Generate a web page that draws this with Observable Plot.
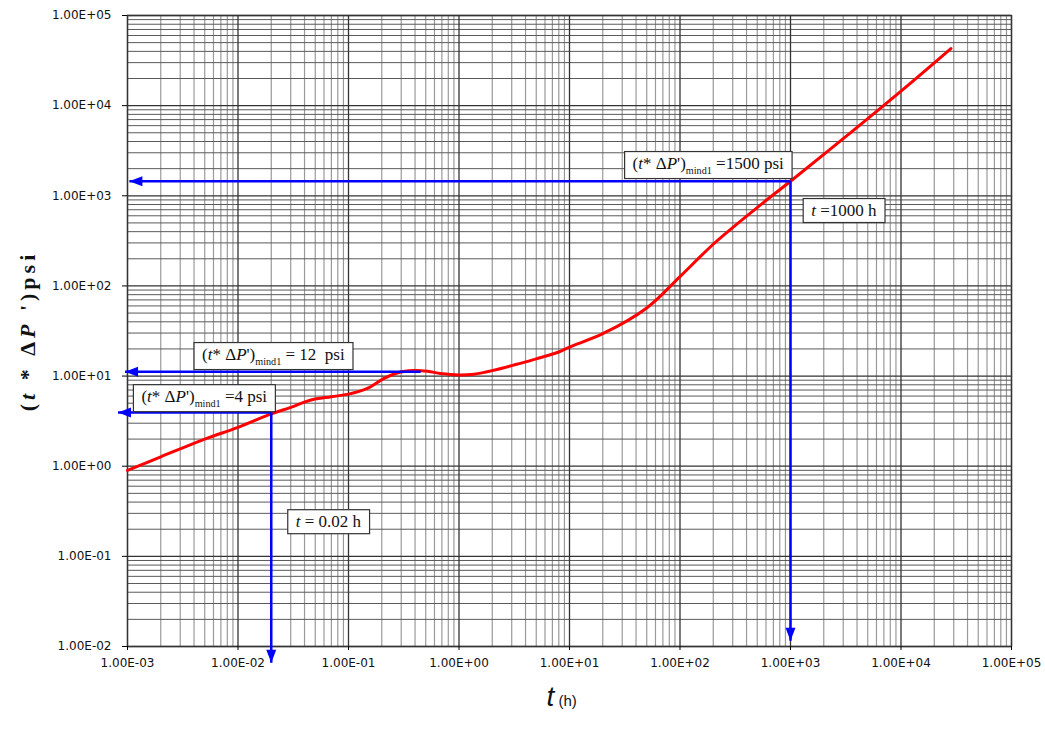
<!DOCTYPE html>
<html><head><meta charset="utf-8">
<script src="https://cdn.jsdelivr.net/npm/d3@7"></script>
<script src="https://cdn.jsdelivr.net/npm/@observablehq/plot@0.6"></script>
<style>
body{margin:0;background:#fff;}
#chart{width:1045px;height:729px;}
</style></head><body><div id="chart"></div>
<script>
// ---- axes / ticks ----
const majorT = [1e-3, 1e-2, 1e-1, 1e0, 1e1, 1e2, 1e3, 1e4, 1e5];
const majorV = [1e-2, 1e-1, 1e0, 1e1, 1e2, 1e3, 1e4, 1e5];
const minorMult = [2, 3, 4, 5, 6, 7, 8, 9];

// ---- pressure-derivative curve (t in h, t*dP' in psi) ----
const curveT = [0.001, 0.002, 0.005, 0.01, 0.02, 0.03, 0.045, 0.07, 0.1, 0.148, 0.206, 0.28, 0.387, 0.52, 0.68, 1.0, 1.37, 2.07, 3.4, 5, 8, 10, 20, 50, 100, 200, 500, 1000, 3000, 10000, 28300];
const curveV = [0.9, 1.27, 2.0, 2.7, 3.8, 4.5, 5.4, 5.9, 6.3, 7.3, 9.3, 10.9, 11.5, 11.3, 10.7, 10.3, 10.5, 11.6, 13.6, 15.5, 18.5, 21, 29.5, 57, 127, 290, 740, 1450, 4300, 14500, 43000];

// ---- blue guide lines ----
const hFromT = [1000, 0.45, 0.02];
const hToT = [1.04e-3, 0.95e-3, 0.82e-3];
const hV = [1450, 11.2, 3.95];
const vT = [1000, 0.02];
const vFromV = [1450, 3.95];
const vToV = [0.0116, 0.0066];

// ---- annotation boxes ----
const labelT = [180, 3040, 0.0209, 0.00495, 0.0658];
const labelV = [2275, 685, 17.3, 5.9, 0.242];
const labelText = [
  "(~t~* Δ~P~')_mind1_ =1500 psi",
  "~t~ =1000 h",
  "(~t~* Δ~P~')_mind1_ = 12  psi",
  "(~t~* Δ~P~')_mind1_ =4 psi",
  "~t~ = 0.02 h"
];
const yTitle = "(~t~ * Δ~P~ ')psi";
const xTitle = "t";
const xUnit = " (h)";

const minorT = majorT.slice(0, -1).flatMap(d => minorMult.map(m => d * m));
const minorV = majorV.slice(0, -1).flatMap(d => minorMult.map(m => d * m));
const fmt = d => { const e = Math.round(Math.log10(d)); return "1.00E" + (e < 0 ? "-" : "+") + String(Math.abs(e)).padStart(2, "0"); };

const arrowHead = { draw(ctx) { ctx.moveTo(0, 0); ctx.lineTo(-5, 13); ctx.lineTo(5, 13); ctx.closePath(); } };

const blue = "#0000ff";
const plot = Plot.plot({
  width: 1045, height: 729,
  marginLeft: 127, marginRight: 34, marginTop: 15, marginBottom: 83,
  x: { type: "log", domain: [1e-3, 1e5] },
  y: { type: "log", domain: [1e-2, 1e5] },
  style: { background: "#fff", overflow: "visible" },
  marks: [
    Plot.ruleX(minorT, { stroke: "#9a9a9a", strokeWidth: 1.2 }),
    Plot.ruleY(minorV, { stroke: "#5a5a5a", strokeWidth: 1 }),
    Plot.ruleX(majorT, { stroke: "#333", strokeWidth: 1.3 }),
    Plot.ruleY(majorV, { stroke: "#333", strokeWidth: 1.3 }),
    Plot.frame({ stroke: "#333", strokeWidth: 1.3 }),
    Plot.axisX({ ticks: majorT, tickFormat: fmt, tickSize: 4, tickPadding: 8, label: null, fontFamily: "DejaVu Sans", fontSize: 12, fill: "#111", stroke: "#000" }),
    Plot.axisY({ ticks: majorV, tickFormat: fmt, tickSize: 5, tickPadding: 11, label: null, fontFamily: "DejaVu Sans", fontSize: 12, fill: "#111", stroke: "#000" }),
    Plot.line(curveT.map((t, i) => [t, curveV[i]]), { x: "0", y: "1", stroke: "#ff0000", strokeWidth: 3, curve: "catmull-rom" }),
    Plot.link(d3.range(hV.length), { x1: i => hFromT[i], x2: i => hToT[i], y1: i => hV[i], y2: i => hV[i], stroke: blue, strokeWidth: 2.5 }),
    Plot.link(d3.range(vT.length), { x1: i => vT[i], x2: i => vT[i], y1: i => vFromV[i], y2: i => vToV[i], stroke: blue, strokeWidth: 2.5 }),
    Plot.dot(d3.range(hV.length), { x: i => hToT[i], y: i => hV[i], symbol: arrowHead, rotate: -90, fill: blue, r: 5 }),
    Plot.dot(d3.range(vT.length), { x: i => vT[i], y: i => vToV[i], symbol: arrowHead, rotate: 180, fill: blue, r: 5 }),
    Plot.text(d3.range(labelText.length), { x: i => labelT[i], y: i => labelV[i], text: i => labelText[i], fontFamily: "Liberation Serif", fontSize: 17, fill: "#111" }),
    Plot.text([yTitle], { frameAnchor: "left", dx: -100, rotate: -90, textAnchor: "middle", text: d => d, fontFamily: "Liberation Serif", fontWeight: "bold", fontSize: 22, fill: "#111" }),
    Plot.text([xTitle], { frameAnchor: "bottom", dx: -23, dy: 59, textAnchor: "start", text: d => d, fontFamily: "Liberation Sans", fontStyle: "italic", fontSize: 28, fill: "#111" })
  ]
});
document.getElementById("chart").appendChild(plot);

const NS = "http://www.w3.org/2000/svg";
function richify(el, raw, subShift) {
  el.textContent = "";
  el.setAttribute("style", "white-space:pre");
  const parts = raw.split(/(~[^~]+~|_[^_]+_)/).filter(s => s);
  let shifted = false;
  for (const p of parts) {
    const ts = document.createElementNS(NS, "tspan");
    if (p[0] === "~") { ts.textContent = p.slice(1, -1); ts.setAttribute("font-style", "italic"); }
    else if (p[0] === "_") { ts.textContent = p.slice(1, -1); ts.setAttribute("font-size", "0.6em"); ts.setAttribute("dy", subShift); shifted = true; el.appendChild(ts); continue; }
    else ts.textContent = p;
    if (shifted) { ts.setAttribute("dy", -subShift); shifted = false; }
    el.appendChild(ts);
  }
}
const allTexts = [...plot.querySelectorAll("text")];
allTexts.forEach(t => {
  const raw = t.textContent;
  if (labelText.includes(raw)) {
    richify(t, raw, 5);
    const b = t.getBBox();
    const r = document.createElementNS(NS, "rect");
    const px = 8, py = 2.5;
    r.setAttribute("x", b.x - px); r.setAttribute("y", b.y - py);
    r.setAttribute("width", b.width + 2 * px); r.setAttribute("height", b.height + 2 * py);
    r.setAttribute("fill", "#fff"); r.setAttribute("stroke", "#333"); r.setAttribute("stroke-width", 1.2);
    if (t.getAttribute("transform")) r.setAttribute("transform", t.getAttribute("transform"));
    t.parentNode.insertBefore(r, t);
  } else if (raw === yTitle) {
    richify(t, raw, 0);
    t.setAttribute("letter-spacing", "4");
  } else if (raw === xTitle) {
    const ts = document.createElementNS(NS, "tspan");
    ts.textContent = xUnit;
    ts.setAttribute("font-size", "15");
    ts.setAttribute("font-style", "normal");
    t.setAttribute("style", "white-space:pre");
    t.appendChild(ts);
  }
});
</script></body></html>
